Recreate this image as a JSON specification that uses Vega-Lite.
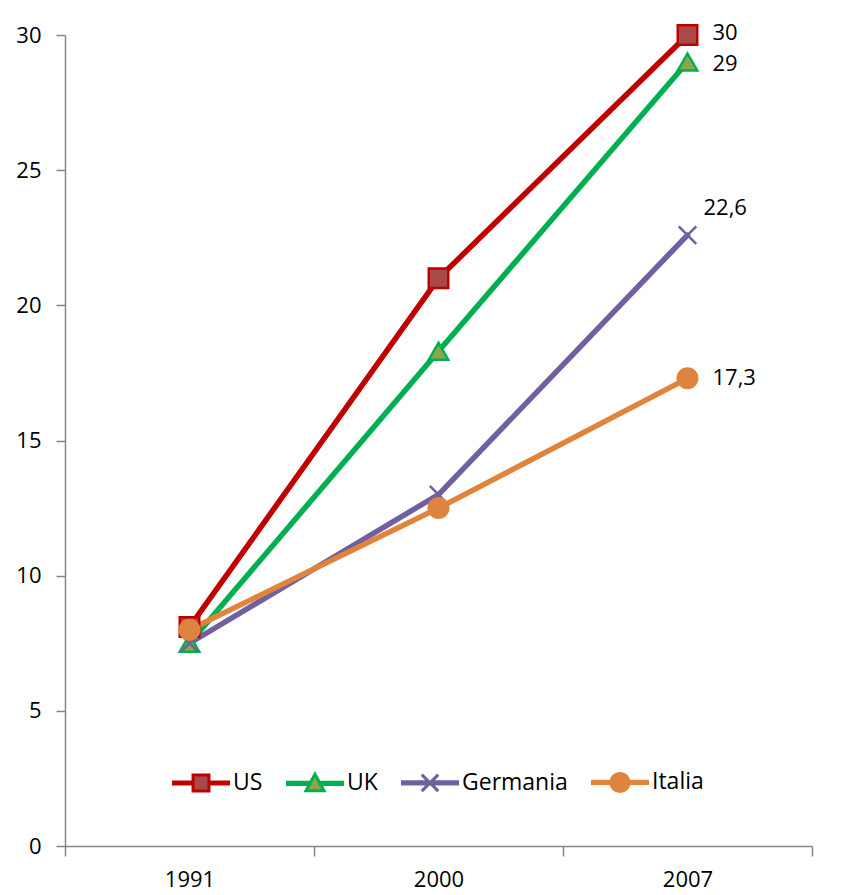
{
  "$schema": "https://vega.github.io/schema/vega-lite/v6.json",
  "width": 747,
  "height": 811,
  "autosize": {"type": "none"},
  "padding": {"left": 65, "top": 35, "right": 38, "bottom": 49},
  "background": "white",
  "config": {
    "font": "Open Sans",
    "view": {"stroke": null},
    "locale": {"number": {"decimal": ",", "thousands": ".", "grouping": [3], "currency": ["", " €"]}}
  },
  "data": {
    "values": [
      {"country": "US", "year": "1991", "value": 8.1},
      {"country": "US", "year": "2000", "value": 21},
      {"country": "US", "year": "2007", "value": 30},
      {"country": "UK", "year": "1991", "value": 7.5},
      {"country": "UK", "year": "2000", "value": 18.3},
      {"country": "UK", "year": "2007", "value": 29},
      {"country": "Germania", "year": "1991", "value": 7.5},
      {"country": "Germania", "year": "2000", "value": 13},
      {"country": "Germania", "year": "2007", "value": 22.6},
      {"country": "Italia", "year": "1991", "value": 8},
      {"country": "Italia", "year": "2000", "value": 12.5},
      {"country": "Italia", "year": "2007", "value": 17.3}
    ]
  },
  "encoding": {
    "x": {
      "field": "year", "type": "ordinal", "title": null,
      "scale": {"type": "band", "paddingInner": 0, "paddingOuter": 0},
      "axis": {
        "labelAngle": 0, "labelFontSize": 22, "labelColor": "#000000", "labelPadding": 13,
        "tickBand": "extent", "tickSize": 10, "tickColor": "#868686", "tickWidth": 1.5,
        "domainColor": "#868686", "domainWidth": 1.5, "grid": false
      }
    },
    "y": {
      "field": "value", "type": "quantitative", "title": null,
      "scale": {"domain": [0, 30], "nice": false},
      "axis": {
        "values": [0, 5, 10, 15, 20, 25, 30], "labelFontSize": 22, "labelColor": "#000000",
        "labelPadding": 15, "tickSize": 9, "tickColor": "#868686", "tickWidth": 1.5,
        "domainColor": "#868686", "domainWidth": 1.5, "grid": false
      }
    }
  },
  "resolve": {"scale": {"stroke": "independent"}},
  "layer": [
    {
      "mark": {"type": "line", "strokeWidth": 5.5, "strokeCap": "round", "strokeJoin": "round"},
      "encoding": {
        "stroke": {
          "field": "country", "type": "nominal",
          "scale": {"domain": ["US", "UK", "Germania", "Italia"], "range": ["#C00000", "#00B050", "#7060A0", "#E0843C"]},
          "legend": {
            "title": null, "orient": "none", "legendX": 107, "legendY": 718, "direction": "horizontal", "columns": 4,
            "padding": 0, "columnPadding": 18, "labelOffset": 3, "labelFontSize": 23, "labelColor": "#000000",
            "symbolSize": 3025, "symbolStrokeWidth": 3,
            "encode": {
              "symbols": {
                "update": {
                  "shape": {"signal": "datum.value === 'US' ? 'M-1,-0.04H-0.31V0.04H-1Z M0.31,-0.04H1V0.04H0.31Z M-0.29,-0.29H0.29V0.29H-0.29Z' : datum.value === 'UK' ? 'M-1,-0.04H-0.18V0.04H-1Z M0.18,-0.04H1V0.04H0.18Z M0,-0.33L0.33,0.27L-0.33,0.27Z' : datum.value === 'Germania' ? 'M-1,-0.04H1V0.04H-1Z M-0.3,-0.3L0.3,0.3 M-0.3,0.3L0.3,-0.3' : 'M-1,-0.04H-0.33V0.04H-1Z M0.33,-0.04H1V0.04H0.33Z M0.33,0A0.33,0.33 0 1,1 -0.33,0A0.33,0.33 0 1,1 0.33,0Z'"},
                  "fill": {"signal": "datum.value === 'US' ? '#A84A4A' : datum.value === 'UK' ? '#8CA64C' : datum.value === 'Germania' ? '#7060A0' : '#DE843E'"},
                  "stroke": {"signal": "datum.value === 'US' ? '#C00000' : datum.value === 'UK' ? '#00B050' : datum.value === 'Germania' ? '#7060A0' : '#E0843C'"},
                  "strokeWidth": {"value": 3},
                  "opacity": {"value": 1},
                  "fillOpacity": {"value": 1}
                }
              }
            }
          }
        },
        "detail": {"field": "country"}
      }
    },
    {
      "mark": {"type": "point", "filled": true, "size": 380, "strokeWidth": 2.5, "opacity": 1},
      "encoding": {
        "stroke": {
          "field": "country", "type": "nominal",
          "scale": {"domain": ["US", "UK", "Germania", "Italia"], "range": ["#C00000", "#00B050", "#7060A0", "#E0843C"]},
          "legend": null
        },
        "shape": {
          "field": "country", "type": "nominal",
          "scale": {"domain": ["US", "UK", "Germania", "Italia"], "range": ["square", "triangle-up", "M-0.9,-0.9L0.9,0.9M-0.9,0.9L0.9,-0.9", "circle"]},
          "legend": null
        },
        "fill": {
          "field": "country", "type": "nominal",
          "scale": {"domain": ["US", "UK", "Germania", "Italia"], "range": ["#A84A4A", "#8CA64C", "#7060A0", "#DE843E"]},
          "legend": null
        }
      }
    },
    {
      "transform": [{"filter": "datum.year === '2007' && datum.country === 'US'"}],
      "mark": {"type": "text", "align": "left", "baseline": "middle", "dx": 25, "dy": -2, "fontSize": 22, "color": "#000000"},
      "encoding": {"text": {"field": "value", "type": "quantitative", "format": ".3~g"}}
    },
    {
      "transform": [{"filter": "datum.year === '2007' && datum.country === 'UK'"}],
      "mark": {"type": "text", "align": "left", "baseline": "middle", "dx": 25, "dy": 2, "fontSize": 22, "color": "#000000"},
      "encoding": {"text": {"field": "value", "type": "quantitative", "format": ".3~g"}}
    },
    {
      "transform": [{"filter": "datum.year === '2007' && datum.country === 'Italia'"}],
      "mark": {"type": "text", "align": "left", "baseline": "middle", "dx": 25, "fontSize": 22, "color": "#000000"},
      "encoding": {"text": {"field": "value", "type": "quantitative", "format": ".3~g"}}
    },
    {
      "transform": [{"filter": "datum.year === '2007' && datum.country === 'Germania'"}],
      "mark": {"type": "text", "align": "left", "baseline": "middle", "dx": 16, "dy": -27, "fontSize": 22, "color": "#000000"},
      "encoding": {"text": {"field": "value", "type": "quantitative", "format": ".3~g"}}
    }
  ]
}
